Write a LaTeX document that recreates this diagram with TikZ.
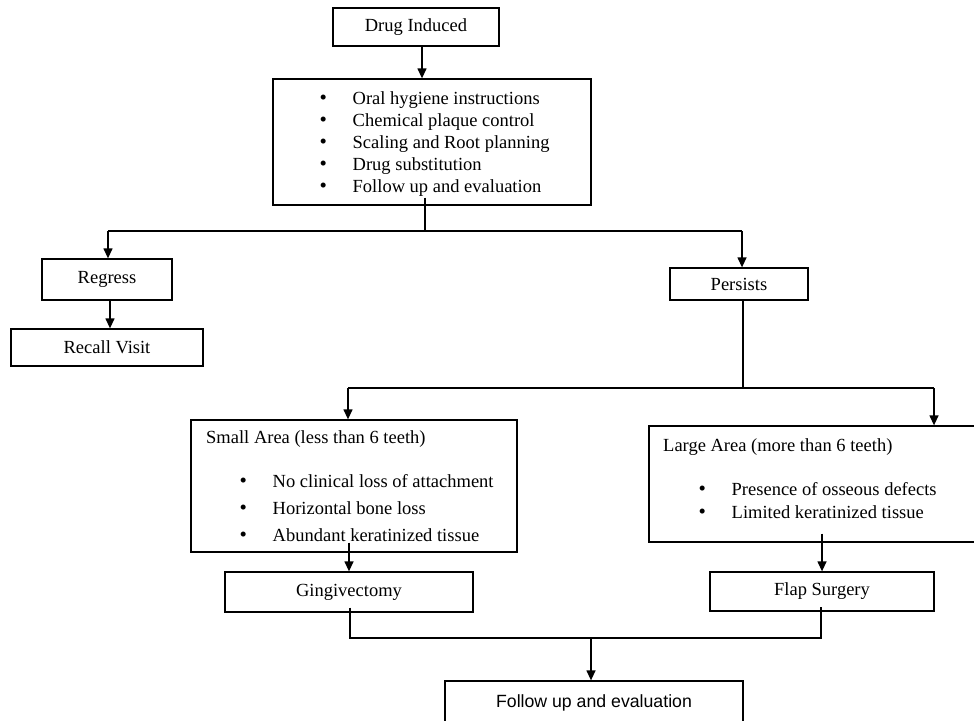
\documentclass[tikz,border=0pt]{standalone}
\usepackage{fontspec}
\setmainfont{Liberation Serif}
\newfontfamily\sansf{Liberation Sans}
\usetikzlibrary{arrows.meta}
\newcommand{\bulitem}[1]{\makebox[33pt][l]{\raisebox{-0.8pt}{\fontsize{21}{22}\selectfont\textbullet}}#1}
\begin{document}
\begin{tikzpicture}[x=1pt,y=-1pt,
  box/.style={draw, line width=1.3pt, inner sep=0pt, font=\fontsize{18.5}{22}\selectfont},
  txt/.style={inner sep=0pt, anchor=base west, font=\fontsize{18.5}{22}\selectfont},
  ln/.style={line width=1.3pt},
  arr/.style={line width=1.3pt, -{Triangle[length=10pt,width=9pt]}}]
\useasboundingbox (0,0) rectangle (974,720);

% boxes
\node[box, minimum width=166pt, minimum height=38pt] (drug) at (416,27) {Drug Induced};
\node[box, minimum width=318pt, minimum height=126pt] (bul) at (432,142) {};
\node[box, minimum width=130pt, minimum height=41pt] (regress) at (107,279.5) {Regress};
\node[box, minimum width=192pt, minimum height=37pt] (recall) at (107,347.5) {Recall Visit};
\node[box, minimum width=138pt, minimum height=32pt] (persists) at (739,284) {Persists};
\node[box, minimum width=326pt, minimum height=132pt] (small) at (354,486) {};
\node[box, minimum width=329pt, minimum height=116pt] (large) at (813.5,484) {};
\node[box, minimum width=248pt, minimum height=40pt] (ging) at (349,592) {Gingivectomy};
\node[box, minimum width=224pt, minimum height=39pt] (flap) at (822,591.5) {Flap Surgery};
\node[box, minimum width=298pt, minimum height=43pt, font=\sansf\fontsize{17.7}{21}\selectfont] (follow) at (594,702.5) {Follow up and evaluation};

% box texts
\node[txt] (b1) at (319.5,104) {\bulitem{Oral hygiene instructions}};
\node[txt] (b2) at (319.5,126) {\bulitem{Chemical plaque control}};
\node[txt] (b3) at (319.5,148) {\bulitem{Scaling and Root planning}};
\node[txt] (b4) at (319.5,170) {\bulitem{Drug substitution}};
\node[txt] (b5) at (319.5,192) {\bulitem{Follow up and evaluation}};

\node[txt] (st) at (206,443) {Small Area (less than 6 teeth)};
\node[txt] (s1) at (239.5,487) {\bulitem{No clinical loss of attachment}};
\node[txt] (s2) at (239.5,514) {\bulitem{Horizontal bone loss}};
\node[txt] (s3) at (239.5,541) {\bulitem{Abundant keratinized tissue}};

\node[txt] (lt) at (663,451) {Large Area (more than 6 teeth)};
\node[txt] (l1) at (698.5,495) {\bulitem{Presence of osseous defects}};
\node[txt] (l2) at (698.5,518) {\bulitem{Limited keratinized tissue}};

% junction points
\coordinate (j1) at (425,231);
\coordinate (h1L) at (108,231);
\coordinate (h1R) at (742,231);
\coordinate (j2) at (743,388);
\coordinate (h2L) at (348,388);
\coordinate (h2R) at (934,388);
\coordinate (j3L) at (350,638);
\coordinate (j3R) at (821,638);
\coordinate (j3M) at (591,638);

% connectors
\draw[arr] ([xshift=6pt]drug.south) -- ([xshift=-10pt]bul.north);
\draw[ln] ([yshift=8pt]bul.south -| j1) -- (j1);
\draw[ln] (h1L) -- (h1R);
\draw[arr] (h1L) -- (h1L |- regress.north);
\draw[arr] (h1R) -- (h1R |- persists.north);
\draw[arr] ([xshift=3pt]regress.south) -- ([xshift=3pt]recall.north);
\draw[ln] (persists.south -| j2) -- (j2);
\draw[ln] (h2L) -- (h2R);
\draw[arr] (h2L) -- (h2L |- small.north);
\draw[arr] (h2R) -- (h2R |- large.north);
\draw[arr] ([yshift=10pt]small.south -| ging.north) -- (ging.north);
\draw[arr] ([yshift=9pt]large.south -| flap.north) -- (flap.north);
\draw[ln] ([yshift=5pt]ging.south -| j3L) -- (j3L) -- (j3R) -- ([yshift=5pt]flap.south -| j3R);
\draw[arr] (j3M) -- (j3M |- follow.north);
\end{tikzpicture}
\end{document}
